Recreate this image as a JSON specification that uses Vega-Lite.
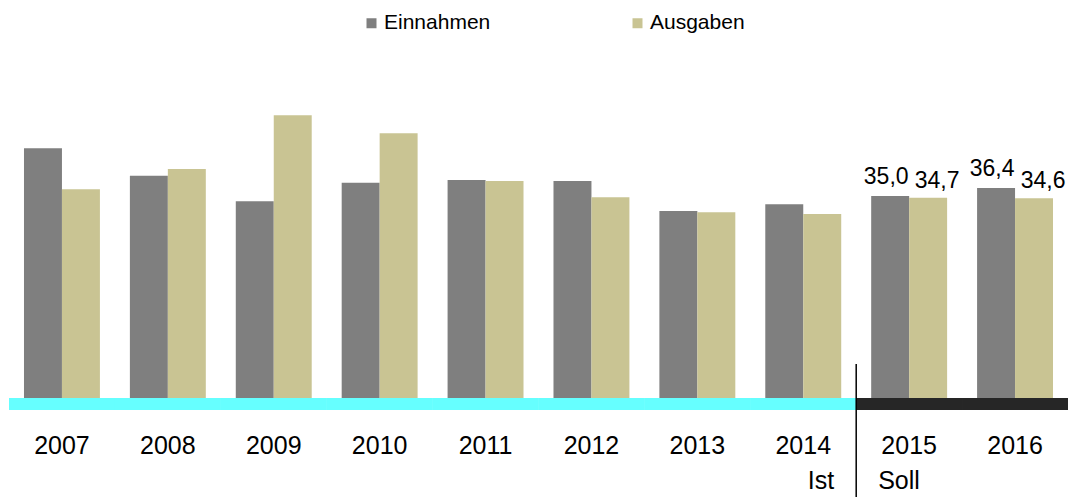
{
  "$schema": "https://vega.github.io/schema/vega-lite/v6.json",
  "width": 1059,
  "height": 300.5,
  "autosize": {"type": "none"},
  "padding": {"left": 9, "top": 109.5, "right": 5, "bottom": 87},
  "config": {"font": "Liberation Sans", "view": {"stroke": null}},
  "data": {
    "values": [
      {"year": "2007", "series": "Einnahmen", "value": 43.3},
      {"year": "2007", "series": "Ausgaben", "value": 36.2},
      {"year": "2008", "series": "Einnahmen", "value": 38.5},
      {"year": "2008", "series": "Ausgaben", "value": 39.7},
      {"year": "2009", "series": "Einnahmen", "value": 34.1},
      {"year": "2009", "series": "Ausgaben", "value": 49.0},
      {"year": "2010", "series": "Einnahmen", "value": 37.3},
      {"year": "2010", "series": "Ausgaben", "value": 45.9},
      {"year": "2011", "series": "Einnahmen", "value": 37.8},
      {"year": "2011", "series": "Ausgaben", "value": 37.6},
      {"year": "2012", "series": "Einnahmen", "value": 37.6},
      {"year": "2012", "series": "Ausgaben", "value": 34.8},
      {"year": "2013", "series": "Einnahmen", "value": 32.4},
      {"year": "2013", "series": "Ausgaben", "value": 32.2},
      {"year": "2014", "series": "Einnahmen", "value": 33.6},
      {"year": "2014", "series": "Ausgaben", "value": 31.9},
      {"year": "2015", "series": "Einnahmen", "value": 35.0, "label": "35,0"},
      {"year": "2015", "series": "Ausgaben", "value": 34.7, "label": "34,7"},
      {"year": "2016", "series": "Einnahmen", "value": 36.4, "label": "36,4"},
      {"year": "2016", "series": "Ausgaben", "value": 34.6, "label": "34,6"}
    ]
  },
  "layer": [
    {
      "layer": [
        {
          "mark": {"type": "rect"},
          "encoding": {
            "x": {"field": "year", "type": "nominal", "scale": {"paddingInner": 0, "paddingOuter": 0}, "axis": null},
            "y": {"datum": 0, "type": "quantitative", "scale": {"domain": [-2.08, 50], "nice": false, "zero": false}, "axis": null},
            "y2": {"datum": -2.08},
            "color": {"condition": {"test": "datum.year >= '2015'", "value": "#262626"}, "value": "#66ffff"}
          }
        },
        {
          "data": {"values": [{"boundary": "2015"}]},
          "mark": {"type": "rule", "color": "#000000", "strokeWidth": 1.5},
          "encoding": {
            "x": {"field": "boundary", "type": "nominal", "bandPosition": 0},
            "y": {"datum": 5.9, "type": "quantitative"},
            "y2": {"datum": -17.3}
          }
        },
        {
          "data": {"values": [{"phase": "Ist"}]},
          "mark": {"type": "text", "align": "right", "baseline": "alphabetic", "dx": -22, "fontSize": 25, "color": "#000000"},
          "encoding": {
            "x": {"datum": "2015", "type": "nominal", "bandPosition": 0},
            "y": {"datum": -15.8, "type": "quantitative"},
            "text": {"field": "phase"}
          }
        },
        {
          "data": {"values": [{"phase": "Soll"}]},
          "mark": {"type": "text", "align": "left", "baseline": "alphabetic", "dx": 22, "fontSize": 25, "color": "#000000"},
          "encoding": {
            "x": {"datum": "2015", "type": "nominal", "bandPosition": 0},
            "y": {"datum": -15.8, "type": "quantitative"},
            "text": {"field": "phase"}
          }
        }
      ]
    },
    {
      "encoding": {
        "x": {
          "field": "year", "type": "nominal",
          "scale": {"paddingInner": 0.283, "paddingOuter": 0.1415},
          "axis": {"title": null, "domain": false, "ticks": false, "labelAngle": 0, "labelFontSize": 25, "labelColor": "#000000", "labelPadding": 23, "orient": "bottom"}
        },
        "xOffset": {"field": "series", "type": "nominal", "scale": {"domain": ["Einnahmen", "Ausgaben"], "paddingInner": 0, "paddingOuter": 0}},
        "y": {"field": "value", "type": "quantitative"}
      },
      "layer": [
        {
          "mark": {"type": "bar"},
          "encoding": {
            "color": {
              "field": "series", "type": "nominal",
              "scale": {"domain": ["Einnahmen", "Ausgaben"], "range": ["#7f7f7f", "#c9c493"]},
              "legend": {
                "title": null, "orient": "none", "direction": "horizontal",
                "legendX": 352, "legendY": -97,
                "symbolType": "square", "symbolSize": 100, "symbolStrokeWidth": 0,
                "labelFontSize": 21, "labelColor": "#000000", "labelOffset": 2, "columnPadding": 136
              }
            }
          }
        },
        {
          "transform": [{"filter": "datum.series === 'Einnahmen' && datum.label"}],
          "mark": {"type": "text", "baseline": "alphabetic", "dy": -12, "dx": -4, "fontSize": 23, "color": "#000000"},
          "encoding": {"text": {"field": "label"}}
        },
        {
          "transform": [{"filter": "datum.series === 'Ausgaben' && datum.label"}],
          "mark": {"type": "text", "baseline": "alphabetic", "dy": -10, "dx": 9, "fontSize": 23, "color": "#000000"},
          "encoding": {"text": {"field": "label"}}
        }
      ]
    }
  ],
  "resolve": {"scale": {"x": "independent"}}
}
